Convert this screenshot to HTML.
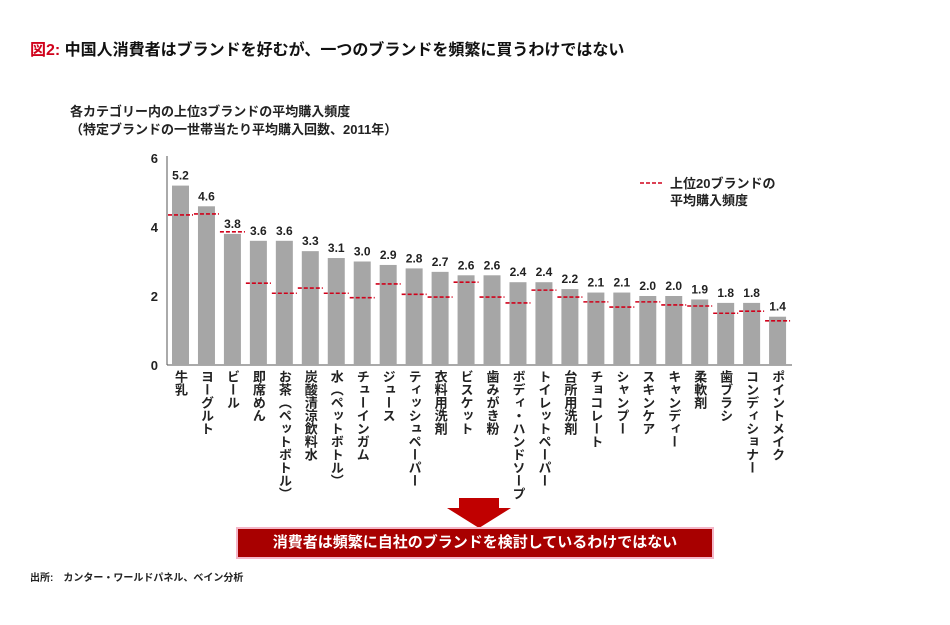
<!DOCTYPE html>
<html><head><meta charset="utf-8"><style>
body{margin:0;width:950px;height:625px;background:#fff;font-family:"Liberation Sans","Noto Sans CJK JP",sans-serif;overflow:hidden;position:relative}
.t{position:absolute;white-space:nowrap}
</style></head><body>
<div class="t" style="left:30px;top:36px;font-size:16px;font-weight:bold;color:#111"><span style="color:#d0021b">図2:</span> 中国人消費者はブランドを好むが、一つのブランドを頻繁に買うわけではない</div>
<div class="t" style="left:70px;top:103px;font-size:13px;font-weight:bold;line-height:18px;color:#222">各カテゴリー内の上位3ブランドの平均購入頻度<br>（特定ブランドの一世帯当たり平均購入回数、2011年）</div>
<svg id="chart" width="950" height="625" style="position:absolute;left:0;top:0"></svg>
<svg width="24" height="6" style="position:absolute;left:640px;top:180px"><line x1="0" y1="3" x2="24" y2="3" stroke="#d0021b" stroke-width="1.6" stroke-dasharray="4,2"/></svg>
<div class="t" style="left:670px;top:175px;font-size:13px;font-weight:bold;line-height:17px;color:#222">上位20ブランドの<br>平均購入頻度</div>
<svg width="70" height="32" style="position:absolute;left:444px;top:498px"><polygon points="15,0 55,0 55,10 67,10 35,30 3,10 15,10" fill="#c00000"/></svg>
<div class="t" style="left:236px;top:527px;width:474px;height:28px;background:#a80000;border:2px solid #f4b6c8;color:#fff;font-size:15px;font-weight:bold;text-align:center;line-height:28px">消費者は頻繁に自社のブランドを検討しているわけではない</div>
<div class="t" style="left:30px;top:569px;font-size:10px;font-weight:bold;color:#222">出所:　カンター・ワールドパネル、ベイン分析</div>
<script>
const categories=["牛乳","ヨーグルト","ビール","即席めん","お茶（ペットボトル）","炭酸清涼飲料水","水（ペットボトル）","チューインガム","ジュース","ティッシュペーパー","衣料用洗剤","ビスケット","歯みがき粉","ボディ・ハンドソープ","トイレットペーパー","台所用洗剤","チョコレート","シャンプー","スキンケア","キャンディー","柔軟剤","歯ブラシ","コンディショナー","ポイントメイク"];
const top3Values=[5.2,4.6,3.8,3.6,3.6,3.3,3.1,3.0,2.9,2.8,2.7,2.6,2.6,2.4,2.4,2.2,2.1,2.1,2.0,2.0,1.9,1.8,1.8,1.4];
const top20Values=[4.35,4.38,3.86,2.37,2.08,2.23,2.08,1.95,2.35,2.05,1.97,2.4,1.97,1.8,2.17,1.97,1.83,1.68,1.83,1.74,1.71,1.5,1.56,1.28];
const yTicks=[0,2,4,6];
const svg=document.getElementById('chart');
const NS='http://www.w3.org/2000/svg';
const y0=365,yScale=34.5,x0=172,pitch=25.96,bw=17;
const y=v=>y0-v*yScale;
const x=i=>x0+i*pitch;
function mk(tag,attrs,txt){const e=document.createElementNS(NS,tag);for(const k in attrs)e.setAttribute(k,attrs[k]);if(txt!==undefined)e.textContent=txt;svg.appendChild(e);return e;}
let ax=mk('line',{x1:167,y1:y(6)-2,x2:167,y2:y0,stroke:'#555','stroke-width':1});


let bx=mk('line',{x1:167,y1:y0,x2:792,y2:y0,stroke:'#555','stroke-width':1});


yTicks.forEach(t=>{
  let e=mk('text',{x:158,y:y(t)+5,'text-anchor':'end','font-size':13,'font-weight':'bold',fill:'#222'},String(t));
  
  
});
categories.forEach((c,i)=>{
  let r=mk('rect',{x:x(i),y:y(top3Values[i]),width:bw,height:top3Values[i]*yScale,fill:'#a6a6a6'});
  
  
  let l=mk('text',{x:x(i)+bw/2,y:y(top3Values[i])-6,'text-anchor':'middle','font-size':12,'font-weight':'bold',fill:'#222'},top3Values[i].toFixed(1));
  
  
  let d=mk('line',{x1:x(i)-4,x2:x(i)+bw+4,y1:y(top20Values[i]),y2:y(top20Values[i]),stroke:'#d0021b','stroke-width':1.6,'stroke-dasharray':'4,2'});
  
  
  let c2=mk('text',{x:x(i)+bw/2,y:370,'font-size':13,'font-weight':'bold',fill:'#222',style:'writing-mode:vertical-rl;glyph-orientation-vertical:0'},c);
  
  
});
</script>
</body></html>
